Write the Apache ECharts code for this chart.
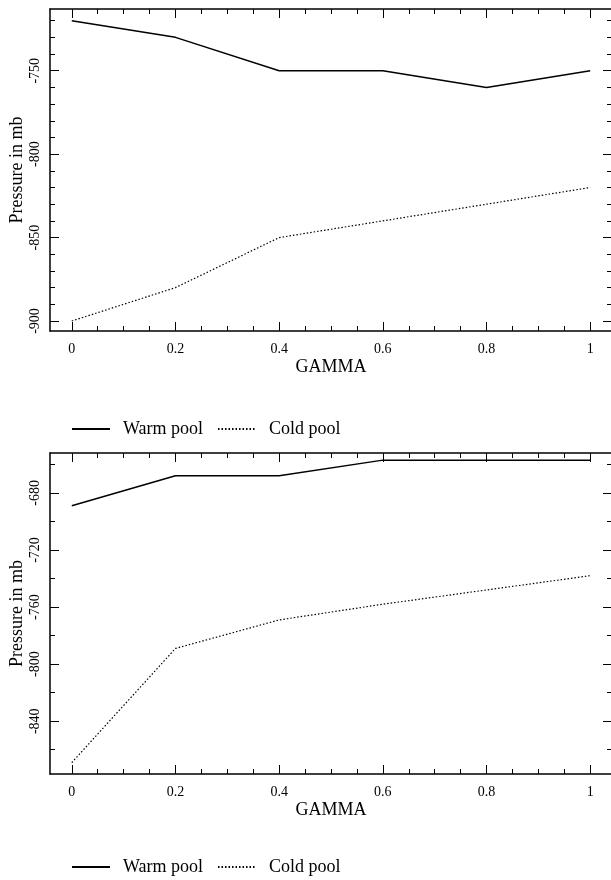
<!doctype html>
<html>
<head>
<meta charset="utf-8">
<title>Pressure vs GAMMA</title>
<script src="https://cdn.jsdelivr.net/npm/echarts@6/dist/echarts.min.js"></script>
<style>
	html, body { margin: 0; padding: 0; background: #fff; }
	#chart { width: 611px; height: 880px; }
</style>
</head>
<body>
<div id="chart"></div>
<script>
	// data
	var gamma = [0, 0.2, 0.4, 0.6, 0.8, 1];
	var warmUpper = [-720, -730, -750, -750, -760, -750];
	var coldUpper = [-900, -880, -850, -840, -830, -820];
	var warmLower = [-689, -668, -668, -657, -657, -657];
	var coldLower = [-869, -789, -769, -758, -748, -738];

	// tick positions
	var xTicks = [0, 0.2, 0.4, 0.6, 0.8, 1];
	var xMinor = [0.05, 0.1, 0.15, 0.25, 0.3, 0.35, 0.45, 0.5, 0.55, 0.65, 0.7, 0.75, 0.85, 0.9, 0.95];
	var yTicksUpper = [-900, -850, -800, -750];
	var yMinorUpper = [-890, -880, -870, -860, -840, -830, -820, -810, -790, -780, -770, -760, -740, -730, -720];
	var yTicksLower = [-840, -800, -760, -720, -680];
	var yMinorLower = [-860, -820, -780, -740, -700, -660];

	var serif = 'Liberation Serif';
	var xMin = -0.042, xMax = 1.042;

	function xAxis(grid, pos, ticks, len, main) {
		return {
			type: 'value', gridIndex: grid, position: pos, min: xMin, max: xMax,
			axisLine: {show: main, onZero: false, lineStyle: {color: '#000', width: 1.5}},
			axisTick: {show: true, inside: true, length: len, customValues: ticks, lineStyle: {color: '#000', width: 1}},
			axisLabel: {show: false},
			splitLine: {show: false}
		};
	}

	function yAxis(grid, pos, range, ticks, len, main) {
		return {
			type: 'value', gridIndex: grid, position: pos, min: range[0], max: range[1],
			axisLine: {show: main, onZero: false, lineStyle: {color: '#000', width: 1.5}},
			axisTick: {show: true, inside: true, length: len, customValues: ticks, lineStyle: {color: '#000', width: 1}},
			axisLabel: {show: false},
			splitLine: {show: false}
		};
	}

	function labelledX(grid) {
		var a = xAxis(grid, 'bottom', xTicks, 9, true);
		a.axisLabel = {show: true, customValues: xTicks, margin: 11, color: '#000', fontFamily: serif, fontSize: 14};
		a.name = 'GAMMA';
		a.nameLocation = 'middle';
		a.nameGap = 27;
		a.nameTextStyle = {color: '#000', fontFamily: serif, fontSize: 18};
		return a;
	}

	function labelledY(grid, range, ticks) {
		var a = yAxis(grid, 'left', range, ticks, 9, true);
		a.axisLabel = {show: true, customValues: ticks, rotate: 90, margin: 8, color: '#000', fontFamily: serif, fontSize: 14};
		a.name = 'Pressure in mb';
		a.nameLocation = 'middle';
		a.nameGap = 24;
		a.nameMoveOverlap = false;
		a.nameTextStyle = {color: '#000', fontFamily: serif, fontSize: 18};
		return a;
	}

	var rangeUpper = [-906, -713];
	var rangeLower = [-877, -652];

	var xAxes = [], yAxes = [];
	[0, 1].forEach(function (g) {
		var range = g == 0 ? rangeUpper : rangeLower;
		var yt = g == 0 ? yTicksUpper : yTicksLower;
		var ym = g == 0 ? yMinorUpper : yMinorLower;
		xAxes.push(labelledX(g));
		xAxes.push(xAxis(g, 'bottom', xMinor, 5, false));
		xAxes.push(xAxis(g, 'top', xTicks, 9, true));
		xAxes.push(xAxis(g, 'top', xMinor, 5, false));
		yAxes.push(labelledY(g, range, yt));
		yAxes.push(yAxis(g, 'left', range, ym, 5, false));
		yAxes.push(yAxis(g, 'right', range, yt, 9, true));
		yAxes.push(yAxis(g, 'right', range, ym, 5, false));
	});

	function pairs(ys) {
		var out = [];
		for (var i = 0; i < gamma.length; i++) {
			out.push([gamma[i], ys[i]]);
		}
		return out;
	}

	var warmStyle = {color: '#000', width: 1.5, type: 'solid'};
	var coldStyle = {color: '#000', width: 1.2, type: [1.5, 2]};

	function legend(top) {
		return {
			top: top, left: 66, itemWidth: 38, itemHeight: 10, itemGap: 14,
			data: ['Warm pool', 'Cold pool'],
			itemStyle: {opacity: 0},
			textStyle: {color: '#000', fontFamily: serif, fontSize: 18, padding: [0, 0, 0, 8]}
		};
	}

	var myChart = echarts.init(document.getElementById('chart'));
	var option = {
		backgroundColor: '#fff',
		animation: false,
		grid: [
			{left: 50, top: 9, width: 562, height: 322, outerBoundsMode: 'none'},
			{left: 50, top: 453, width: 562, height: 321, outerBoundsMode: 'none'}
		],
		legend: [legend(415), legend(853)],
		xAxis: xAxes,
		yAxis: yAxes,
		series: [
			{name: 'Warm pool', type: 'line', xAxisIndex: 0, yAxisIndex: 0, symbol: 'none', lineStyle: warmStyle, itemStyle: {color: '#000'}, data: pairs(warmUpper)},
			{name: 'Cold pool', type: 'line', xAxisIndex: 0, yAxisIndex: 0, symbol: 'none', lineStyle: coldStyle, itemStyle: {color: '#000'}, data: pairs(coldUpper)},
			{name: 'Warm pool', type: 'line', xAxisIndex: 4, yAxisIndex: 4, symbol: 'none', lineStyle: warmStyle, itemStyle: {color: '#000'}, data: pairs(warmLower)},
			{name: 'Cold pool', type: 'line', xAxisIndex: 4, yAxisIndex: 4, symbol: 'none', lineStyle: coldStyle, itemStyle: {color: '#000'}, data: pairs(coldLower)}
		]
	};
	myChart.setOption(option);
</script>
</body>
</html>
